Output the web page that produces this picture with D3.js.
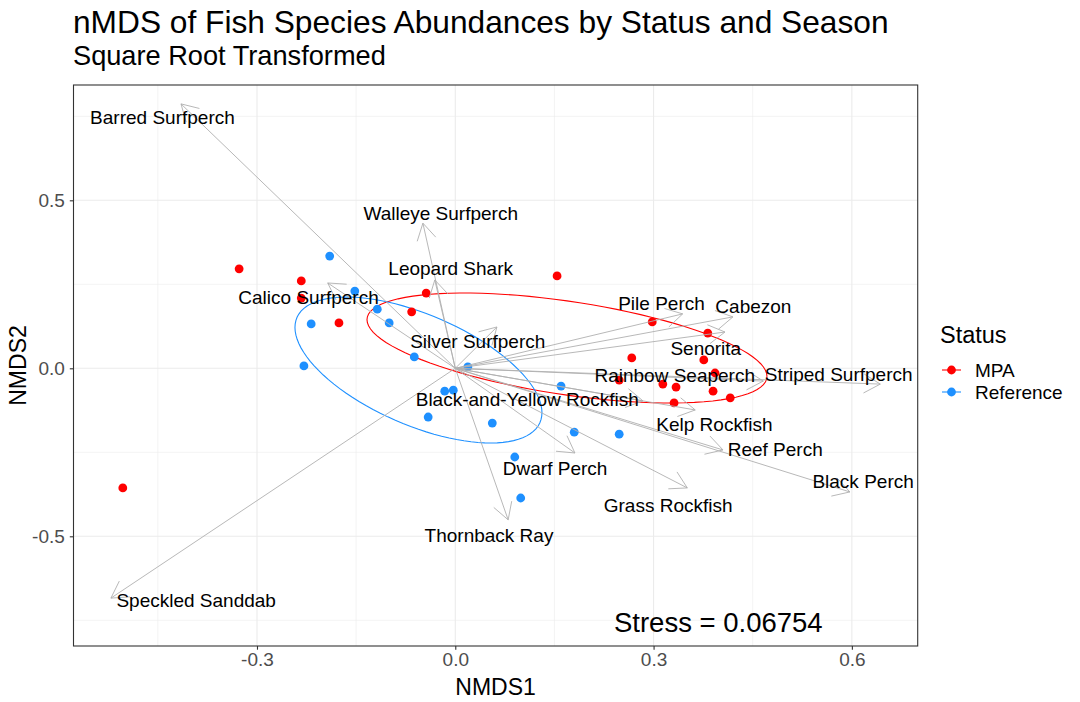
<!DOCTYPE html>
<html>
<head>
<meta charset="utf-8">
<script src="https://cdn.jsdelivr.net/npm/d3@7"></script>
<style>
  body { margin: 0; background: #fff; }
  text { font-family: Arial, "Liberation Sans", sans-serif; }
</style>
</head>
<body>
<script>
const w = 1080
const h = 702

// site scores, MPA
const mpaX = [-0.327, -0.233, -0.233, -0.176, -0.044, -0.066, 0.154, 0.298, 0.382, 0.267,
  0.376, 0.393, 0.248, 0.314, 0.334, 0.390, 0.331, 0.416, -0.503]
const mpaY = [0.296, 0.260, 0.209, 0.135, 0.224, 0.168, 0.275, 0.138, 0.105, 0.031,
  0.025, -0.014, -0.035, -0.047, -0.056, -0.068, -0.103, -0.088, -0.356]

// site scores, Reference
const refX = [-0.190, -0.152, -0.118, -0.100, -0.218, -0.062, -0.229, 0.019, -0.016,
  -0.003, -0.041, 0.056, 0.160, 0.180, 0.248, 0.090, 0.099]
const refY = [0.334, 0.230, 0.176, 0.135, 0.132, 0.034, 0.007, 0.004, -0.068,
  -0.065, -0.145, -0.163, -0.053, -0.190, -0.196, -0.264, -0.386]

// species vectors (envfit) and label positions
const species = ['Barred Surfperch', 'Walleye Surfperch', 'Leopard Shark', 'Calico Surfperch',
  'Silver Surfperch', 'Pile Perch', 'Cabezon', 'Senorita', 'Rainbow Seaperch',
  'Striped Surfperch', 'Black-and-Yellow Rockfish', 'Kelp Rockfish', 'Reef Perch',
  'Black Perch', 'Grass Rockfish', 'Dwarf Perch', 'Thornback Ray', 'Speckled Sanddab']
const vecX = [-0.415, -0.049, -0.031, -0.193, 0.063, 0.344, 0.420, 0.408, 0.466,
  0.643, 0.284, 0.363, 0.405, 0.597, 0.351, 0.181, 0.080, -0.521]
const vecY = [0.787, 0.432, 0.263, 0.254, 0.123, 0.162, 0.153, 0.108, -0.038,
  -0.047, -0.097, -0.124, -0.243, -0.368, -0.356, -0.252, -0.451, -0.684]
const labX = [-0.443, -0.022, -0.007, -0.222, 0.034, 0.312, 0.451, 0.379, 0.332,
  0.580, 0.109, 0.392, 0.484, 0.617, 0.322, 0.151, 0.051, -0.392]
const labY = [0.745, 0.462, 0.296, 0.212, 0.081, 0.194, 0.184, 0.060, -0.020,
  -0.017, -0.094, -0.167, -0.241, -0.337, -0.407, -0.298, -0.498, -0.690]

// group ellipses: centre and covariance
const status = ['MPA', 'Reference']
const statusColors = ['#ff0000', '#1e90ff']
const ellCx = [0.169, -0.0557]
const ellCy = [0.0604, -0.0051]
const ellSxx = [0.09155, 0.03491]
const ellSyy = [0.02679, 0.04720]
const ellSxy = [-0.02551, -0.02367]

const xTicks = [-0.3, 0, 0.3, 0.6]
const xMinor = [-0.45, -0.15, 0.15, 0.45]
const yTicks = [-0.5, 0, 0.5]
const yMinor = [-0.75, -0.25, 0.25, 0.75]
const stress = '0.06754'

const pLeft = 73.5
const pRight = 917.7
const pTop = 85
const pBottom = 646

const x = d3.scaleLinear().domain([-0.5776, 0.6996]).range([pLeft, pRight])
const y = d3.scaleLinear().domain([-0.8265, 0.8432]).range([pBottom, pTop])

const svg = d3.select('body').append('svg')
  .attr('width', w)
  .attr('height', h)

svg.append('rect')
  .attr('width', w)
  .attr('height', h)
  .attr('fill', '#fff')

// grid
const grid = svg.append('g')
grid.selectAll('.vmin').data(xMinor).enter().append('line')
  .attr('x1', d => x(d)).attr('x2', d => x(d))
  .attr('y1', pTop).attr('y2', pBottom)
  .attr('stroke', '#ebebeb').attr('stroke-width', 0.6)
grid.selectAll('.hmin').data(yMinor).enter().append('line')
  .attr('x1', pLeft).attr('x2', pRight)
  .attr('y1', d => y(d)).attr('y2', d => y(d))
  .attr('stroke', '#ebebeb').attr('stroke-width', 0.6)
grid.selectAll('.vmaj').data(xTicks).enter().append('line')
  .attr('x1', d => x(d)).attr('x2', d => x(d))
  .attr('y1', pTop).attr('y2', pBottom)
  .attr('stroke', '#ebebeb').attr('stroke-width', 1.1)
grid.selectAll('.hmaj').data(yTicks).enter().append('line')
  .attr('x1', pLeft).attr('x2', pRight)
  .attr('y1', d => y(d)).attr('y2', d => y(d))
  .attr('stroke', '#ebebeb').attr('stroke-width', 1.1)

// ellipses
const ellipsePath = (i) => {
  const l11 = Math.sqrt(ellSxx[i])
  const l21 = ellSxy[i] / l11
  const l22 = Math.sqrt(ellSyy[i] - l21 * l21)
  const pts = d3.range(0, 101).map(k => {
    const t = k / 100 * 2 * Math.PI
    return [ellCx[i] + l11 * Math.cos(t), ellCy[i] + l21 * Math.cos(t) + l22 * Math.sin(t)]
  })
  return d3.line().x(d => x(d[0])).y(d => y(d[1]))(pts)
}
status.forEach((s, i) => {
  svg.append('path')
    .attr('d', ellipsePath(i))
    .attr('fill', 'none')
    .attr('stroke', statusColors[i])
    .attr('stroke-width', 1.1)
})

// points
const mpa = mpaX.map((v, i) => ({ x: v, y: mpaY[i] }))
const ref = refX.map((v, i) => ({ x: v, y: refY[i] }))
svg.selectAll('.mpa').data(mpa).enter().append('circle')
  .attr('cx', d => x(d.x)).attr('cy', d => y(d.y)).attr('r', 4.4)
  .attr('fill', statusColors[0])
svg.selectAll('.ref').data(ref).enter().append('circle')
  .attr('cx', d => x(d.x)).attr('cy', d => y(d.y)).attr('r', 4.4)
  .attr('fill', statusColors[1])

// species arrows
const vecs = species.map((s, i) => ({ name: s, x: vecX[i], y: vecY[i], lx: labX[i], ly: labY[i] }))
const arrowPath = (d) => {
  const x0 = x(0)
  const y0 = y(0)
  const x1 = x(d.x)
  const y1 = y(d.y)
  const a = Math.atan2(y1 - y0, x1 - x0)
  const len = 19
  const b1 = [x1 - len * Math.cos(a - Math.PI / 6), y1 - len * Math.sin(a - Math.PI / 6)]
  const b2 = [x1 - len * Math.cos(a + Math.PI / 6), y1 - len * Math.sin(a + Math.PI / 6)]
  return 'M' + x0 + ',' + y0 + 'L' + x1 + ',' + y1 +
    'M' + b1[0] + ',' + b1[1] + 'L' + x1 + ',' + y1 + 'L' + b2[0] + ',' + b2[1]
}
svg.selectAll('.vec').data(vecs).enter().append('path')
  .attr('d', arrowPath)
  .attr('fill', 'none')
  .attr('stroke', '#b0b0b0')
  .attr('stroke-width', 0.9)

svg.selectAll('.lab').data(vecs).enter().append('text')
  .text(d => d.name)
  .attr('x', d => x(d.lx))
  .attr('y', d => y(d.ly))
  .attr('text-anchor', 'middle')
  .attr('dominant-baseline', 'central')
  .attr('font-size', '19px')
  .attr('fill', '#000')

// stress
svg.append('text')
  .text('Stress = ' + stress)
  .attr('x', 718.3)
  .attr('y', 622)
  .attr('text-anchor', 'middle')
  .attr('dominant-baseline', 'central')
  .attr('font-size', '27.5px')
  .attr('fill', '#000')

// panel border
svg.append('rect')
  .attr('x', pLeft).attr('y', pTop)
  .attr('width', pRight - pLeft).attr('height', pBottom - pTop)
  .attr('fill', 'none')
  .attr('stroke', '#333')
  .attr('stroke-width', 1.1)

// axes
const fmt = d => d.toFixed(1)
const xAxis = svg.append('g')
  .attr('transform', 'translate(0,' + pBottom + ')')
  .call(d3.axisBottom(x).tickValues(xTicks).tickFormat(fmt).tickSize(3.7).tickPadding(3))
const yAxis = svg.append('g')
  .attr('transform', 'translate(' + pLeft + ',0)')
  .call(d3.axisLeft(y).tickValues(yTicks).tickFormat(fmt).tickSize(3.7).tickPadding(5))
;[xAxis, yAxis].forEach(g => {
  g.select('.domain').remove()
  g.selectAll('line').attr('stroke', '#333').attr('stroke-width', 1.1)
  g.selectAll('text')
    .attr('fill', '#4d4d4d')
    .attr('font-size', '19px')
    .attr('font-family', 'Arial, "Liberation Sans", sans-serif')
})
yAxis.selectAll('text').attr('dy', '0.35em')

svg.append('text')
  .text('NMDS1')
  .attr('x', (pLeft + pRight) / 2)
  .attr('y', 687)
  .attr('text-anchor', 'middle')
  .attr('dominant-baseline', 'central')
  .attr('font-size', '23px')

svg.append('text')
  .text('NMDS2')
  .attr('transform', 'translate(17.5,' + (pTop + pBottom) / 2 + ') rotate(-90)')
  .attr('text-anchor', 'middle')
  .attr('dominant-baseline', 'central')
  .attr('font-size', '23px')

// titles
svg.append('text')
  .text('nMDS of Fish Species Abundances by Status and Season')
  .attr('x', 73)
  .attr('y', 33)
  .attr('font-size', '31.7px')

svg.append('text')
  .text('Square Root Transformed')
  .attr('x', 73)
  .attr('y', 65)
  .attr('font-size', '27.2px')

// legend
const legend = svg.append('g')
legend.append('text')
  .text('Status')
  .attr('x', 940)
  .attr('y', 335)
  .attr('dominant-baseline', 'central')
  .attr('font-size', '23.5px')
status.forEach((s, i) => {
  const ly = 370 + i * 22
  legend.append('line')
    .attr('x1', 942).attr('x2', 961)
    .attr('y1', ly).attr('y2', ly)
    .attr('stroke', statusColors[i]).attr('stroke-width', 1.1)
  legend.append('circle')
    .attr('cx', 951.5).attr('cy', ly).attr('r', 4.4)
    .attr('fill', statusColors[i])
  legend.append('text')
    .text(s)
    .attr('x', 975)
    .attr('y', ly)
    .attr('dominant-baseline', 'central')
    .attr('font-size', '19px')
})
</script>
</body>
</html>
